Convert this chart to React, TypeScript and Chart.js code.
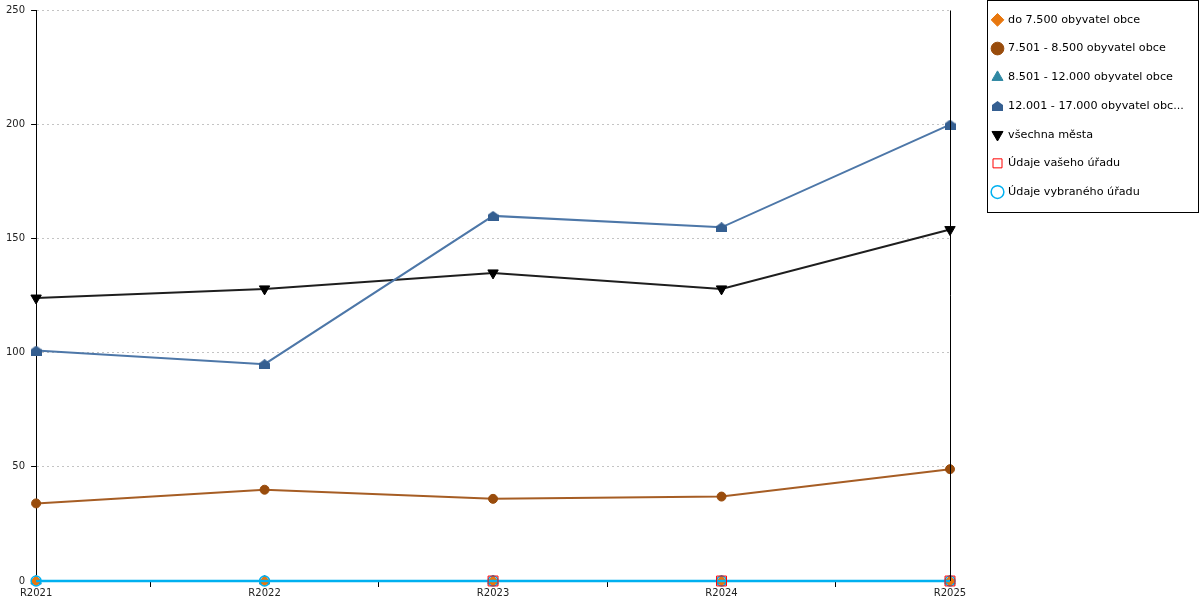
import React, { useEffect, useRef } from 'react';
import { Chart, registerables } from 'chart.js';

Chart.register(...registerables);

const labels = ['R2021', 'R2022', 'R2023', 'R2024', 'R2025'];
const do7500 = [0, 0, 0, 0, 0];
const od7501 = [34, 40, 36, 37, 49];
const od8501 = [0, 0, 0, 0, 0];
const od12001 = [101, 95, 160, 155, 200];
const vsechnaMesta = [124, 128, 135, 128, 154];
const vasUrad = [null, null, 0, 0, 0];
const vybranyUrad = [0, 0, 0, 0, 0];
const yTicks = [0, 50, 100, 150, 200, 250];

const FONT = 'DejaVu Sans';

// house-shaped marker for the 12.001 - 17.000 series
function makeHouse(color: string) {
  const c = document.createElement('canvas');
  c.width = 11;
  c.height = 10;
  const g = c.getContext('2d')!;
  g.fillStyle = color;
  g.beginPath();
  g.moveTo(5.5, 0);
  g.lineTo(11, 4);
  g.lineTo(11, 10);
  g.lineTo(0, 10);
  g.lineTo(0, 4);
  g.closePath();
  g.fill();
  return c;
}

// fixed legend width + position, border around it, right frame line
const framePlugin = {
  id: 'frame',
  beforeLayout(chart: any) {
    const legend = chart.legend;
    if (legend && !legend._patched) {
      const fit = legend.fit.bind(legend);
      legend.fit = function () {
        fit();
        this.width = 250;
      };
      legend._patched = true;
    }
  },
  afterLayout(chart: any) {
    const legend = chart.legend;
    if (legend) {
      legend.left = 975;
      legend.right = 1200;
      legend.top = -3.25;
    }
  },
  afterDatasetsDraw(chart: any) {
    const { ctx, chartArea } = chart;
    ctx.save();
    ctx.strokeStyle = '#000';
    ctx.lineWidth = 1;
    ctx.beginPath();
    ctx.moveTo(Math.round(chartArea.right) + 0.5, chartArea.top);
    ctx.lineTo(Math.round(chartArea.right) + 0.5, chartArea.bottom);
    ctx.stroke();
    ctx.restore();
  },
  afterDraw(chart: any) {
    const { ctx } = chart;
    ctx.save();
    ctx.strokeStyle = '#000';
    ctx.lineWidth = 1;
    ctx.strokeRect(987.5, 0.5, 211, 212);
    ctx.restore();
  },
};

export default function App() {
  const canvasRef = useRef<HTMLCanvasElement>(null);

  useEffect(() => {
    if (!canvasRef.current) return;
    const house = makeHouse('#355f91');

    const chart = new Chart(canvasRef.current, {
      type: 'line',
      data: {
        labels,
        datasets: [
          {
            label: 'do 7.500 obyvatel obce',
            data: do7500,
            borderColor: '#e8770e',
            backgroundColor: '#e8770e',
            pointStyle: 'rectRot',
            pointRadius: 5,
            pointBorderWidth: 1,
            borderWidth: 2,
            clip: false,
          },
          {
            label: '7.501 - 8.500 obyvatel obce',
            data: od7501,
            borderColor: '#a65d24',
            backgroundColor: '#994c0c',
            pointBackgroundColor: '#994c0c',
            pointBorderColor: '#994c0c',
            pointStyle: 'circle',
            pointRadius: 4.5,
            pointBorderWidth: 1,
            borderWidth: 2,
            clip: false,
          },
          {
            label: '8.501 - 12.000 obyvatel obce',
            data: od8501,
            borderColor: '#2f88a3',
            backgroundColor: '#2f88a3',
            pointStyle: 'triangle',
            pointRadius: 6,
            pointBorderWidth: 1,
            borderWidth: 2,
            clip: false,
          },
          {
            label: '12.001 - 17.000 obyvatel obc...',
            data: od12001,
            borderColor: '#4d77a8',
            backgroundColor: '#355f91',
            pointBackgroundColor: '#355f91',
            pointBorderColor: '#355f91',
            pointStyle: house,
            pointRadius: 6,
            borderWidth: 2,
            clip: false,
          },
          {
            label: 'všechna města',
            data: vsechnaMesta,
            borderColor: '#1e1e1e',
            backgroundColor: '#000',
            pointBackgroundColor: '#000',
            pointBorderColor: '#000',
            pointStyle: 'triangle',
            pointRotation: 180,
            pointRadius: 6,
            pointBorderWidth: 1,
            borderWidth: 2,
            clip: false,
          },
          {
            label: 'Údaje vašeho úřadu',
            data: vasUrad,
            borderColor: '#ff0000',
            backgroundColor: 'rgba(0,0,0,0)',
            pointBackgroundColor: 'rgba(0,0,0,0)',
            pointBorderColor: '#ff0000',
            pointStyle: 'rect',
            pointRadius: 7,
            pointBorderWidth: 1,
            borderWidth: 0,
            showLine: false,
            order: -2,
            clip: false,
          },
          {
            label: 'Údaje vybraného úřadu',
            data: vybranyUrad,
            borderColor: '#00b0f0',
            backgroundColor: 'rgba(0,0,0,0)',
            pointBackgroundColor: 'rgba(0,0,0,0)',
            pointBorderColor: '#00b0f0',
            pointStyle: 'circle',
            pointRadius: 5,
            pointBorderWidth: 1.5,
            borderWidth: 2.5,
            order: -1,
            clip: false,
          },
        ],
      },
      options: {
        animation: false,
        responsive: false,
        maintainAspectRatio: false,
        layout: { padding: { top: 5, left: 0 } },
        elements: { line: { tension: 0 } },
        scales: {
          x: {
            offset: false,
            grid: {
              offset: true,
              drawOnChartArea: false,
              drawTicks: true,
              tickLength: 6,
              tickColor: '#000',
            },
            border: { color: '#000', width: 1 },
            ticks: {
              color: '#222',
              padding: 0.5,
              maxRotation: 0,
              font: { family: FONT, size: 10 },
            },
          },
          y: {
            min: 0,
            max: 250,
            afterBuildTicks: (axis: any) => {
              axis.ticks = yTicks.map((v) => ({ value: v }));
            },
            grid: {
              color: '#c4c4c4',
              tickColor: '#000',
              tickLength: 5,
              tickBorderDash: [],
            } as any,
            border: { color: '#000', width: 1, dash: [2, 3] },
            ticks: {
              color: '#222',
              padding: 6,
              font: { family: FONT, size: 10, lineHeight: 0.9 },
            },
          },
        },
        plugins: {
          legend: {
            position: 'right',
            align: 'start',
            labels: {
              usePointStyle: true,
              boxWidth: 10,
              boxHeight: 9,
              padding: 17.5,
              color: '#000',
              font: { family: FONT, size: 11.2 },
              sort: (a: any, b: any) => a.datasetIndex - b.datasetIndex,
            },
          },
          tooltip: { enabled: false },
        },
      },
      plugins: [framePlugin],
    });

    return () => {
      chart.destroy();
    };
  }, []);

  return (
    <div style={{ position: 'fixed', left: 0, top: 0, width: 1200, height: 600, background: '#fff' }}>
      <canvas ref={canvasRef} width={1200} height={600} style={{ width: 1200, height: 600 }}></canvas>
    </div>
  );
}
